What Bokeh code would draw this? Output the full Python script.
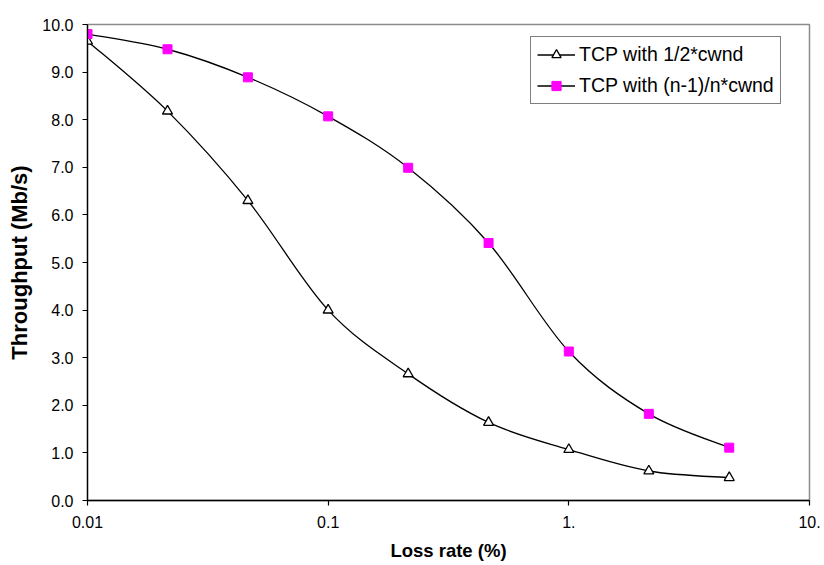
import numpy as np
from bokeh.plotting import figure
from bokeh.models import (ColumnDataSource, FixedTicker, PrintfTickFormatter,
                          Legend, LegendItem, Range1d)
from bokeh.embed import file_html
from bokeh.resources import INLINE

# ---- data ----
loss_rate = [0.01, 0.0215, 0.0464, 0.1, 0.215, 0.464, 1.0, 2.15, 4.64]
tput_half = [9.65, 8.18, 6.30, 4.00, 2.66, 1.64, 1.07, 0.62, 0.48]
tput_n1n = [9.80, 9.48, 8.89, 8.07, 6.99, 5.41, 3.13, 1.82, 1.11]

series_names = ["TCP with 1/2*cwnd", "TCP with (n-1)/n*cwnd"]
x_ticks = [0.01, 0.1, 1, 10]
x_tick_labels = ["0.01", "0.1", "1.", "10."]
y_ticks = [0, 1, 2, 3, 4, 5, 6, 7, 8, 9, 10]

FONT = "Liberation Sans"


def smooth_segments(xs, ys):
    """Bezier segments (Catmull-Rom style, like a spreadsheet's smoothed line)
    computed in log-x space, returned in data coordinates."""
    u = np.log10(np.asarray(xs, dtype=float))
    v = np.asarray(ys, dtype=float)
    n = len(u)
    out = dict(x0=[], y0=[], x1=[], y1=[], cx0=[], cy0=[], cx1=[], cy1=[])
    for i in range(n - 1):
        im1 = max(i - 1, 0)
        ip2 = min(i + 2, n - 1)
        c0u = u[i] + (u[i + 1] - u[im1]) / 6.0
        c0v = v[i] + (v[i + 1] - v[im1]) / 6.0
        c1u = u[i + 1] - (u[ip2] - u[i]) / 6.0
        c1v = v[i + 1] - (v[ip2] - v[i]) / 6.0
        out["x0"].append(10 ** u[i]); out["y0"].append(v[i])
        out["x1"].append(10 ** u[i + 1]); out["y1"].append(v[i + 1])
        out["cx0"].append(10 ** c0u); out["cy0"].append(c0v)
        out["cx1"].append(10 ** c1u); out["cy1"].append(c1v)
    return out


p = figure(
    x_axis_type="log",
    x_range=Range1d(0.01, 10),
    y_range=Range1d(0, 10),
    frame_width=722, frame_height=476,
    min_border_left=87, min_border_right=15,
    min_border_top=24, min_border_bottom=65,
    output_backend="svg", toolbar_location=None,
    background_fill_color="white", border_fill_color="white",
)

p.xgrid.visible = False
p.ygrid.visible = False
p.outline_line_color = "#8c8c8c"
p.outline_line_width = 1.5

# axes
for ax in (p.xaxis[0], p.yaxis[0]):
    ax.axis_line_color = "black"
    ax.axis_line_width = 1.3
    ax.major_tick_line_color = "black"
    ax.major_tick_line_width = 1.2
    ax.major_tick_in = 0
    ax.major_tick_out = 5
    ax.minor_tick_line_color = None
    ax.major_label_text_font = FONT
    ax.major_label_text_font_size = "16px"
    ax.major_label_text_color = "black"
    ax.axis_label_text_font = FONT
    ax.axis_label_text_font_style = "bold"
    ax.axis_label_text_color = "black"

p.xaxis.ticker = FixedTicker(ticks=x_ticks)
p.xaxis.major_label_overrides = {t: l for t, l in zip(x_ticks, x_tick_labels)}
p.xaxis.major_label_standoff = 10
p.xaxis.axis_label = "Loss rate (%)"
p.xaxis.axis_label_text_font_size = "18.5px"
p.xaxis.axis_label_standoff = 9

p.yaxis.ticker = FixedTicker(ticks=y_ticks)
p.yaxis.formatter = PrintfTickFormatter(format="%.1f")
p.yaxis.major_label_standoff = 9
p.yaxis.axis_label = "Throughput (Mb/s)"
p.yaxis.axis_label_text_font_size = "22px"
p.yaxis.axis_label_standoff = 7

# series 1: open triangles
seg1 = ColumnDataSource(smooth_segments(loss_rate, tput_half))
b1 = p.bezier(x0="x0", y0="y0", x1="x1", y1="y1", cx0="cx0", cy0="cy0",
              cx1="cx1", cy1="cy1", source=seg1, line_color="black", line_width=1.3)
s1 = p.scatter(loss_rate, tput_half, marker="triangle", size=10,
               line_color="black", line_width=1.3, fill_color="white")

# series 2: magenta squares
seg2 = ColumnDataSource(smooth_segments(loss_rate, tput_n1n))
b2 = p.bezier(x0="x0", y0="y0", x1="x1", y1="y1", cx0="cx0", cy0="cy0",
              cx1="cx1", cy1="cy1", source=seg2, line_color="black", line_width=1.3)
s2 = p.scatter(loss_rate, tput_n1n, marker="square", size=9,
               line_color="#FF00FF", fill_color="#FF00FF")

legend = Legend(
    items=[LegendItem(label=series_names[0], renderers=[b1, s1]),
           LegendItem(label=series_names[1], renderers=[b2, s2])],
    location=(443, 396),
    label_text_font=FONT, label_text_font_size="19.5px",
    label_text_color="black",
    border_line_color="black", border_line_width=1,
    background_fill_color="white", background_fill_alpha=1.0,
    padding=6, spacing=8, margin=0,
    glyph_width=38, glyph_height=23, label_height=23, label_standoff=4,
)
p.add_layout(legend, "center")

open("out.html", "w").write(file_html(p, INLINE))
